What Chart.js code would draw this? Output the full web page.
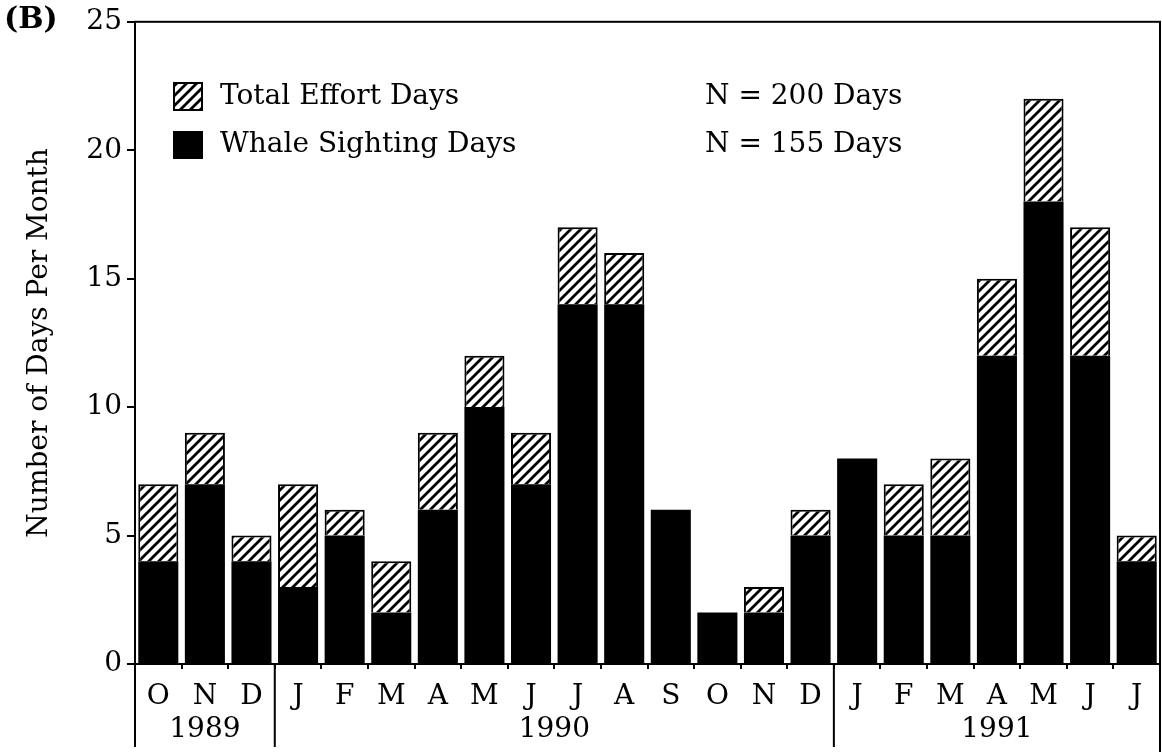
<!DOCTYPE html>
<html>
<head>
<meta charset="utf-8">
<script src="https://cdn.jsdelivr.net/npm/chart.js@4.4.1/dist/chart.umd.min.js"></script>
<style>
  html, body { margin: 0; padding: 0; background: #fff; }
  #wrap { width: 1162px; height: 752px; position: relative; }
</style>
</head>
<body>
<div id="wrap"><canvas id="chart"></canvas></div>
<script>
const months = ["O", "N", "D", "J", "F", "M", "A", "M", "J", "J", "A", "S", "O", "N", "D", "J", "F", "M", "A", "M", "J", "J"];
const years = ["1989", "1990", "1991"];
const monthsPerYear = [3, 12, 7];
const totalEffortDays = [7, 9, 5, 7, 6, 4, 9, 12, 9, 17, 16, 6, 2, 3, 6, 8, 7, 8, 15, 22, 17, 5];
const whaleSightingDays = [4, 7, 4, 3, 5, 2, 6, 10, 7, 14, 14, 6, 2, 2, 5, 8, 5, 5, 12, 18, 12, 4];
const yTicks = [0, 5, 10, 15, 20, 25];

const serif = "'DejaVu Serif', 'Liberation Serif', serif";
const ink = "#000";

// effort days that had no whale sighting sit on top of the black bars
const effortOnly = totalEffortDays.map((v, i) => v - whaleSightingDays[i]);
const sum = (arr) => arr.reduce((a, b) => a + b, 0);

function makeHatch() {
  const tile = document.createElement("canvas");
  tile.width = 10;
  tile.height = 10;
  const g = tile.getContext("2d");
  g.fillStyle = "#fff";
  g.fillRect(0, 0, 10, 10);
  g.strokeStyle = ink;
  g.lineWidth = 2.8;
  g.beginPath();
  [0, 10, 20].forEach((k) => {
    g.moveTo(k - 12, 12);
    g.lineTo(k + 2, -2);
  });
  g.stroke();
  return g.createPattern(tile, "repeat");
}

const hatch = makeHatch();

const decorations = {
  id: "decorations",
  afterDraw(chart) {
    const { ctx, chartArea: area, scales } = chart;
    const x = scales.x;
    const step = (area.right - area.left) / months.length;
    ctx.save();
    ctx.strokeStyle = ink;
    ctx.lineWidth = 2;

    // frame around the plot
    ctx.strokeRect(area.left, area.top, area.right - area.left, area.bottom - area.top);

    // year separators under the month labels
    let idx = 0;
    const bounds = [area.left];
    monthsPerYear.forEach((n) => {
      idx += n;
      bounds.push(x.getPixelForValue(idx - 1) + step / 2);
    });
    bounds.forEach((bx, i) => {
      ctx.beginPath();
      ctx.moveTo(bx, area.bottom);
      ctx.lineTo(bx, i === bounds.length - 1 ? 752 : 747);
      ctx.stroke();
    });

    ctx.fillStyle = ink;
    ctx.font = `28px ${serif}`;
    ctx.textAlign = "center";
    ctx.textBaseline = "middle";
    years.forEach((yr, i) => {
      ctx.fillText(yr, (bounds[i] + bounds[i + 1]) / 2, 730);
    });

    // panel letter
    ctx.font = `bold 30px ${serif}`;
    ctx.textAlign = "left";
    ctx.fillText("(B)", 4, 20);

    // legend
    ctx.fillStyle = hatch;
    ctx.fillRect(174, 83, 28, 27);
    ctx.strokeRect(174, 83, 28, 27);
    ctx.fillStyle = ink;
    ctx.fillRect(173, 131, 30, 28);

    ctx.font = `28px ${serif}`;
    ctx.fillText("Total Effort Days", 220, 97);
    ctx.fillText("Whale Sighting Days", 220, 145);
    ctx.fillText(`N = ${sum(totalEffortDays)} Days`, 705, 97);
    ctx.fillText(`N = ${sum(whaleSightingDays)} Days`, 705, 145);
    ctx.restore();
  },
};

new Chart(document.getElementById("chart"), {
  type: "bar",
  data: {
    labels: months,
    datasets: [
      {
        label: "Whale Sighting Days",
        data: whaleSightingDays,
        backgroundColor: ink,
        borderWidth: 0,
      },
      {
        label: "Total Effort Days",
        data: effortOnly,
        backgroundColor: hatch,
        borderColor: ink,
        borderWidth: 2,
      },
    ],
  },
  options: {
    responsive: true,
    maintainAspectRatio: false,
    animation: false,
    layout: { padding: { top: 20, right: 2, left: 0, bottom: 0 } },
    datasets: {
      bar: { categoryPercentage: 1, barPercentage: 0.86 },
    },
    plugins: {
      legend: { display: false },
      tooltip: { enabled: false },
    },
    scales: {
      x: {
        stacked: true,
        afterFit: (s) => { s.height = 88; },
        border: { display: true, color: ink, width: 2 },
        grid: {
          offset: true,
          drawOnChartArea: false,
          drawTicks: true,
          tickLength: 5,
          color: ink,
          lineWidth: 2,
        },
        ticks: {
          color: ink,
          padding: 11,
          autoSkip: false,
          maxRotation: 0,
          font: { family: serif, size: 28 },
        },
      },
      y: {
        stacked: true,
        min: 0,
        max: 25,
        afterFit: (s) => { s.width = 135; },
        afterBuildTicks: (s) => { s.ticks = yTicks.map((v) => ({ value: v })); },
        border: { display: true, color: ink, width: 2 },
        grid: {
          drawOnChartArea: false,
          drawTicks: true,
          tickLength: 8,
          color: ink,
          lineWidth: 2,
        },
        ticks: {
          color: ink,
          padding: 5,
          font: { family: serif, size: 28 },
        },
        title: {
          display: true,
          text: "Number of Days Per Month",
          color: ink,
          padding: { top: 23, bottom: 0 },
          font: { family: serif, size: 28 },
        },
      },
    },
  },
  plugins: [decorations],
});
</script>
</body>
</html>
